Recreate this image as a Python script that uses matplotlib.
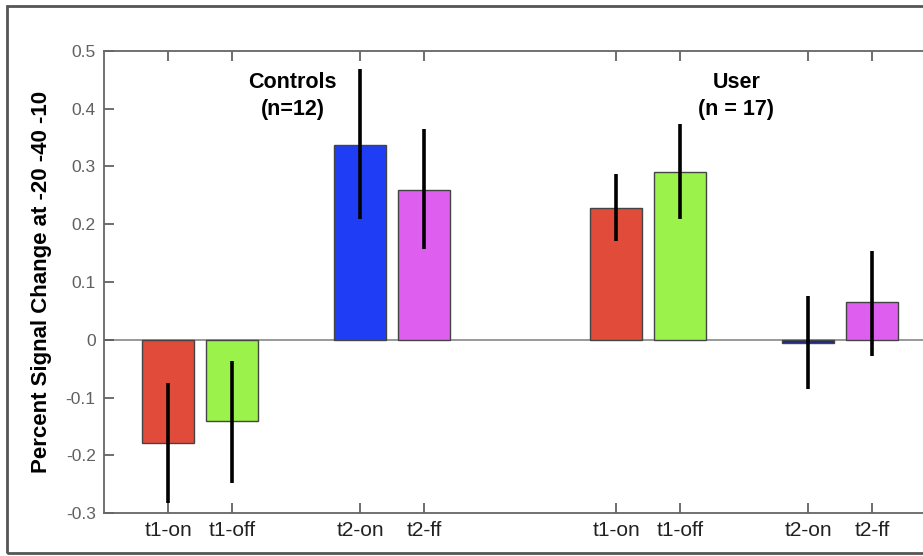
import matplotlib.pyplot as plt
from matplotlib.patches import Rectangle

# Daten
positions = [1, 2, 4, 5, 8, 9, 11, 12]
tick_labels = ["t1-on", "t1-off", "t2-on", "t2-ff", "t1-on", "t1-off", "t2-on", "t2-ff"]
means = [-0.178, -0.141, 0.337, 0.260, 0.228, 0.290, -0.005, 0.065]
err_low = [-0.283, -0.248, 0.209, 0.157, 0.171, 0.209, -0.086, -0.028]
err_high = [-0.075, -0.037, 0.469, 0.365, 0.287, 0.373, 0.075, 0.153]
bar_colors = ["#E04B3A", "#9AF24A", "#1F3DF5", "#DE5EF0",
              "#E04B3A", "#9AF24A", "#1A2690", "#DE5EF0"]
group_titles = ["Controls", "User"]
group_counts = ["(n=12)", "(n = 17)"]
group_x = [2.95, 9.88]

plt.rcParams["font.family"] = ["Liberation Sans", "DejaVu Sans"]

fig = plt.figure(figsize=(9.23, 5.56), dpi=100)
ax = fig.add_axes([0.1127, 0.0773, 0.9014, 0.831])

# Rahmen um die Abbildung (rechts abgeschnitten)
fig.patches.append(Rectangle((0.008, 0.006), 1.2, 0.983, transform=fig.transFigure,
                             fill=False, edgecolor="#555555", linewidth=2.0))

ax.axhline(0, color="#888888", linewidth=1.2, zorder=1)

ax.bar(positions, means, width=0.8, color=bar_colors, edgecolor="#444444",
       linewidth=1.0, zorder=2)

for xp, lo, hi in zip(positions, err_low, err_high):
    ax.vlines(xp, lo, hi, color="black", linewidth=2.6, zorder=3)

# Gruppenbeschriftung
for gx, title, count in zip(group_x, group_titles, group_counts):
    ax.text(gx, 0.446, title, ha="center", va="center", fontsize=15.5,
            fontweight="bold")
    ax.text(gx, 0.398, count, ha="center", va="center", fontsize=15.5,
            fontweight="bold")

ax.set_xlim(0, 13)
ax.set_ylim(-0.3, 0.5)
ax.set_xticks(positions)
ax.set_xticklabels(tick_labels, fontsize=15, color="#222222")
ax.set_yticks([-0.3, -0.2, -0.1, 0, 0.1, 0.2, 0.3, 0.4, 0.5])
ax.set_yticklabels(["-0.3", "-0.2", "-0.1", "0", "0.1", "0.2", "0.3", "0.4", "0.5"],
                   fontsize=12.5, color="#606060")
ax.tick_params(direction="in", length=7, width=1.2, color="#555555",
               top=True, right=True, pad=6)
for sp in ax.spines.values():
    sp.set_color("#666666")
    sp.set_linewidth(1.3)

ax.set_ylabel("Percent Signal Change at -20 -40 -10", fontsize=16,
              fontweight="bold")
ax.yaxis.set_label_coords(-0.062, 0.5)

fig.savefig("out.png", dpi=100)
